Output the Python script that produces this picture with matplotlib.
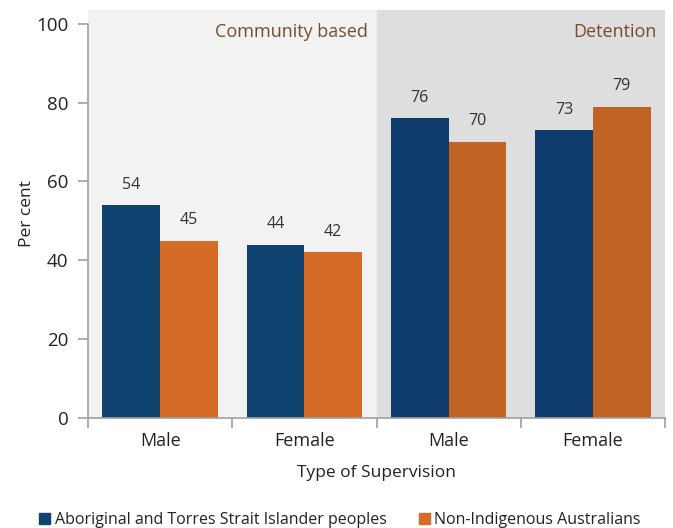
import numpy as np
import matplotlib
matplotlib.use("Agg")
import matplotlib.pyplot as plt
from matplotlib.patches import Patch

plt.rcParams['font.family'] = ['Open Sans', 'DejaVu Sans']

categories = ["Male", "Female", "Male", "Female"]
sections = ["Community based", "Detention"]
indigenous = [54, 44, 76, 73]
non_indigenous = [45, 42, 70, 79]

navy = ["#0f426f", "#0f426f", "#0e3b6b", "#0e3b6b"]
orange = ["#d46c27", "#d46c27", "#c16423", "#c16423"]

fig = plt.figure(figsize=(6.73, 5.28), dpi=100)
ax = fig.add_axes([88 / 673, 1 - 418 / 528, 577 / 673, 408 / 528])

x = np.arange(len(categories))
w = 0.4

ax.axvspan(-0.5, 1.5, color="#f2f2f2", zorder=0)
ax.axvspan(1.5, 3.5, color="#dedede", zorder=0)

b1 = ax.bar(x - w / 2, indigenous, w, color=navy, zorder=2)
b2 = ax.bar(x + w / 2, non_indigenous, w, color=orange, zorder=2)

for bars, vals in [(b1, indigenous), (b2, non_indigenous)]:
    for b, v in zip(bars, vals):
        ax.text(b.get_x() + b.get_width() / 2, v + 3.2, str(v), ha="center",
                va="bottom", fontsize=11.5, color="#333333")

ax.text(1.44, 98, sections[0], ha="right", va="center", fontsize=13, color="#7a4a2c")
ax.text(3.44, 98, sections[1], ha="right", va="center", fontsize=13, color="#7a4a2c")

ax.set_xlim(-0.5, 3.5)
ax.set_ylim(0, 103.5)
ax.set_yticks([0, 20, 40, 60, 80, 100])
ax.set_xticks(x)
ax.set_xticklabels(categories, fontsize=13, color="#222222")
ax.set_xticks(np.arange(-0.5, 4, 1), minor=True)
ax.tick_params(axis="x", which="major", length=0, pad=10)
ax.tick_params(axis="x", which="minor", length=7, color="#a0a0a0", width=1.2)
ax.tick_params(axis="y", length=7, color="#a0a0a0", width=1.2, labelsize=13.5,
               labelcolor="#222222", pad=7)

for s in ["top", "right"]:
    ax.spines[s].set_visible(False)
for s in ["left", "bottom"]:
    ax.spines[s].set_color("#a0a0a0")
    ax.spines[s].set_linewidth(1.2)
ax.spines["left"].set_bounds(0, 100)

ax.set_ylabel("Per cent", fontsize=12.5, color="#222222", labelpad=1)
ax.set_xlabel("Type of Supervision", fontsize=12.5, color="#222222", labelpad=11)

handles = [Patch(color="#0f426f", label="Aboriginal and Torres Strait Islander peoples"),
           Patch(color="#d46c27", label="Non-Indigenous Australians")]
fig.legend(handles=handles, loc="center", bbox_to_anchor=(0.505, 1 - 520 / 528), ncol=2,
           frameon=False, fontsize=11.5, handlelength=0.7, handleheight=0.7,
           handletextpad=0.3, columnspacing=2.0, labelcolor="#222222")

fig.savefig("out.png", dpi=100)
